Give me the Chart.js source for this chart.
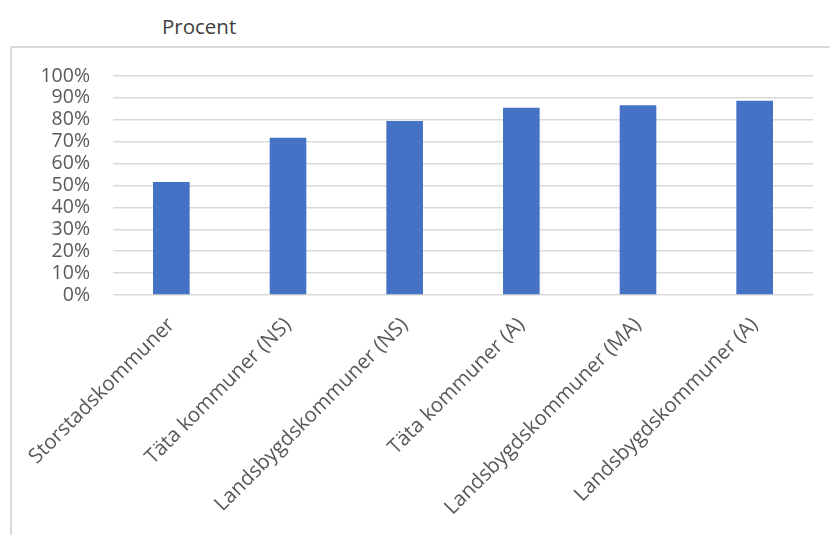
<!DOCTYPE html>
<html>
<head>
<meta charset="utf-8">
<script src="https://cdn.jsdelivr.net/npm/chart.js@4/dist/chart.umd.min.js"></script>
<style>
  html, body { margin: 0; padding: 0; background: #ffffff; }
  #wrap { position: relative; width: 830px; height: 535px; overflow: hidden; }
  #frame { position: absolute; left: 10px; top: 46px; width: 830px; height: 600px;
           border-left: 2px solid #d9d9d9; border-top: 2px solid #d9d9d9; box-sizing: border-box; }
  #title { position: absolute; left: 162px; top: 12px; font-family: "Open Sans", sans-serif;
           font-size: 20.5px; color: #404040; }
  canvas { position: absolute; left: 0; top: 0; }
</style>
</head>
<body>
<div id="wrap">
  <div id="frame"></div>
  <div id="title">Procent</div>
  <canvas id="c" width="830" height="535"></canvas>
</div>
<script>
const categories = [
  "Storstadskommuner",
  "Täta kommuner (NS)",
  "Landsbygdskommuner (NS)",
  "Täta kommuner (A)",
  "Landsbygdskommuner (MA)",
  "Landsbygdskommuner (A)"
];
const values = [51.6, 71.8, 79.5, 85.5, 86.7, 88.7];
const yTicks = [0, 10, 20, 30, 40, 50, 60, 70, 80, 90, 100];

new Chart(document.getElementById('c'), {
  type: 'bar',
  data: {
    labels: categories,
    datasets: [{
      data: values,
      backgroundColor: '#4472c4',
      borderWidth: 0,
      barPercentage: 0.314,
      categoryPercentage: 1.0
    }]
  },
  options: {
    responsive: false,
    animation: false,
    layout: { padding: { top: 76, right: 17, left: 0, bottom: 0 } },
    plugins: { legend: { display: false }, tooltip: { enabled: false } },
    scales: {
      x: {
        grid: { display: false, drawTicks: false },
        border: { display: false },
        ticks: {
          minRotation: 45, maxRotation: 45,
          padding: 18,
          autoSkip: false,
          color: '#595959',
          font: { family: 'Open Sans', size: 20.5 }
        },
        afterFit: (s) => { s.height = 240; }
      },
      y: {
        min: 0, max: 100,
        afterBuildTicks: (s) => { s.ticks = yTicks.map(v => ({ value: v })); },
        grid: { color: '#d9d9d9', lineWidth: 1.5, drawTicks: false },
        border: { display: false },
        ticks: {
          autoSkip: false,
          padding: 23,
          color: '#595959',
          font: { family: 'Open Sans', size: 19.5 },
          callback: (v) => v + '%'
        },
        afterFit: (s) => { s.width = 113; }
      }
    }
  }
});
</script>
</body>
</html>
